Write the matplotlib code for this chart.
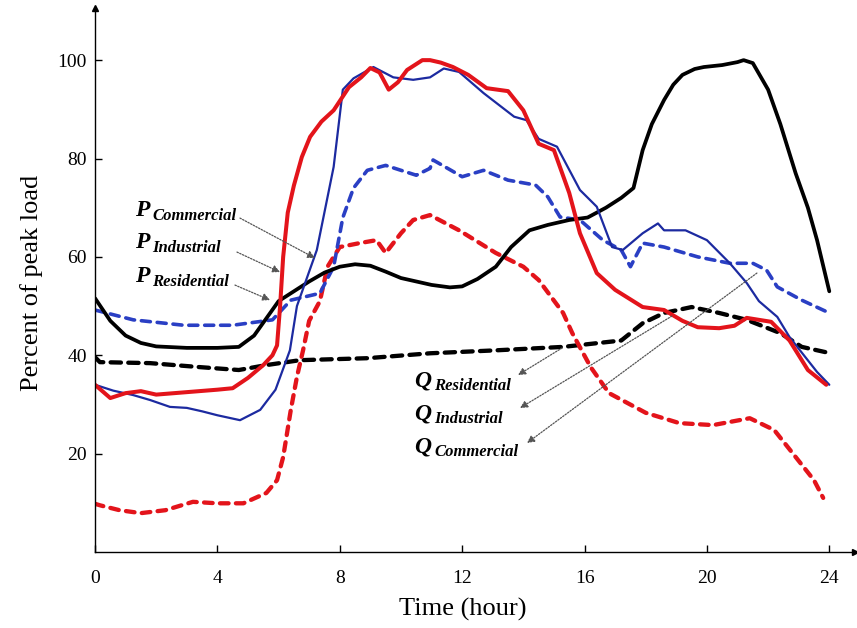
import matplotlib
matplotlib.use("Agg")
import matplotlib.pyplot as plt

# ---------------- data ----------------
# P_Residential (black solid)
res_p_h = [0, 0.5, 1, 1.5, 2, 3, 4, 4.7, 5.2, 5.6, 6, 6.5, 7, 7.5, 8, 8.5, 9, 9.5, 10,
           10.5, 11, 11.6, 12, 12.5, 13.1, 13.6, 14.2, 14.8, 15.5, 16.1, 16.7, 17.2, 17.6,
           17.9, 18.2, 18.6, 18.9, 19.2, 19.6, 19.9, 20.5, 21.0, 21.2, 21.5, 22, 22.4,
           22.9, 23.3, 23.6, 24]
res_p_v = [51.6, 47, 44, 42.5, 41.8, 41.5, 41.5, 41.7, 44, 47.5, 51, 53, 55, 56.8, 58,
           58.5, 58.2, 57, 55.7, 55, 54.3, 53.8, 54, 55.5, 58, 62, 65.4, 66.5, 67.5, 68,
           70, 72, 74, 81.7, 87, 91.9, 95, 97, 98.2, 98.6, 99, 99.6, 100, 99.4, 94, 87,
           77, 70, 63.4, 53]

# P_Industrial (red solid)
ind_p_h = [0, 0.5, 1, 1.5, 2, 3, 4, 4.5, 5, 5.5, 5.8, 5.95, 6.05, 6.15, 6.3, 6.5, 6.76,
           7.03, 7.4, 7.8, 8.3, 8.7, 9.0, 9.3, 9.6, 9.9, 10.2, 10.7, 10.95, 11.3, 11.7,
           12.2, 12.8, 13.5, 14.0, 14.5, 15.0, 15.5, 15.85, 16.4, 17.0, 17.9, 18.6, 19.2,
           19.7, 20.4, 20.9, 21.3, 22.1, 22.7, 23.3, 23.9]
ind_p_v = [34, 31.3, 32.3, 32.7, 32, 32.5, 33, 33.3, 35.4, 38, 40, 42, 50, 60, 69, 74.5,
           80.3, 84.4, 87.5, 89.8, 94.5, 96.5, 98.4, 97.5, 94, 95.5, 98, 100, 100, 99.5,
           98.6, 97, 94.3, 93.7, 89.8, 83, 81.7, 73, 64.8, 56.7, 53.3, 49.8, 49.2, 47,
           45.7, 45.5, 46, 47.6, 46.8, 43, 37, 34]

# P_Commercial (blue solid)
com_p_h = [0, 0.6, 1.25, 1.8, 2.45, 3, 3.5, 4, 4.74, 5.4, 5.9, 6.37, 6.6, 7.25, 7.8, 8.1,
           8.45, 9.1, 9.75, 10.4, 10.95, 11.4, 11.9, 12.7, 13.7, 14.1, 14.5, 15.1, 15.85,
           16.4, 16.9, 17.25, 17.9, 18.4, 18.6, 19.3, 20, 20.75, 21.3, 21.7, 22.3, 22.7,
           23.6, 24]
com_p_v = [34, 32.8, 31.9, 30.9, 29.5, 29.3, 28.6, 27.8, 26.8, 28.9, 33, 41, 50, 61.4,
           78.3, 94, 96.3, 98.6, 96.5, 96, 96.5, 98.3, 97.6, 93.3, 88.5, 87.8, 84, 82.4,
           73.6, 70.2, 62, 61.4, 64.8, 66.8, 65.4, 65.4, 63.4, 58.7, 54.7, 51, 47.8, 43.7,
           36.6, 34]

# Q_Commercial (blue dashed)
com_q_h = [0, 1.25, 2.9, 4.5, 5.8, 6.4, 7.35, 7.8, 8.1, 8.45, 8.9, 9.5, 10.5, 10.95,
           11.05, 12, 12.7, 13.5, 14.4, 14.8, 15.2, 15.85, 16.6, 17.2, 17.5, 17.9, 18.6,
           19.7, 20.75, 21.5, 21.95, 22.3, 23.1, 24]
com_q_v = [49.2, 47.2, 46.1, 46.1, 47.2, 51.2, 52.6, 58, 68, 74, 77.6, 78.6, 76.6, 78,
           79.7, 76.3, 77.6, 75.6, 74.6, 72.2, 68.1, 67.5, 63.4, 61.4, 58, 62.8, 62, 60,
           58.7, 58.7, 57.3, 53.9, 51.2, 48.6]

# Q_Industrial (red dashed)
ind_q_h = [0, 0.16, 0.8, 1.5, 2.3, 3.2, 4, 4.85, 5.6, 5.95, 6.15, 6.4, 6.6, 6.8, 7.0,
           7.35, 7.6, 8.0, 8.65, 9.2, 9.5, 10.0, 10.4, 10.95, 11.9, 13.1, 14.0, 14.5,
           15.3, 15.6, 16.2, 16.8, 18.0, 19.1, 20.2, 21.4, 22.2, 22.8, 23.5, 23.8]
ind_q_v = [9.8, 9.5, 8.5, 7.9, 8.5, 10.2, 9.9, 9.9, 12, 14.6, 19.3, 28.9, 35.6, 41, 47,
           51, 58, 62, 62.8, 63.4, 60.8, 64.8, 67.5, 68.5, 65.4, 60.8, 58, 55.3, 48.6,
           44.5, 37.6, 32.3, 28.3, 26.2, 25.8, 27.2, 24.8, 20.1, 14.6, 11]

# Q_Residential (black dashed)
res_q_h = [0, 0.16, 1.8, 3.4, 4.7, 5.6, 6.7, 8.9, 10.95, 13.1, 15.3, 17.2, 17.9, 18.6,
           19.5, 20.4, 21.3, 22.4, 23.1, 23.9]
res_q_v = [39.6, 38.6, 38.4, 37.6, 37, 38, 39, 39.4, 40.4, 41, 41.7, 43, 46.5, 48.6,
           49.8, 48.6, 47.2, 44.5, 41.7, 40.6]

x_ticks = [0, 4, 8, 12, 16, 20, 24]
y_ticks = [20, 40, 60, 80, 100]

p_labels = ["Commercial", "Industrial", "Residential"]
q_labels = ["Residential", "Industrial", "Commercial"]

# ---------------- figure ----------------
W, H = 857, 628
fig = plt.figure(figsize=(W / 100, H / 100), dpi=100)
plt.rcParams['font.family'] = ['Liberation Serif', 'DejaVu Serif']

ax = fig.add_axes([95 / W, 76 / H, (855 - 95) / W, (552 - 8) / H])
ax.set_xlim(0, 24.84)
ax.set_ylim(0, 110.6)

RED = '#e3141b'
BLUE = '#1c2aa0'
BLUE_D = '#2a3fc4'

common = dict(solid_joinstyle='round', solid_capstyle='round', dash_capstyle='round',
              dash_joinstyle='round')
ax.plot(res_q_h, res_q_v, color='black', lw=3.1, dashes=(2.4, 1.7), **common)
ax.plot(ind_q_h, ind_q_v, color=RED, lw=3.1, dashes=(2.0, 1.7), **common)
ax.plot(com_q_h, com_q_v, color=BLUE_D, lw=2.6, dashes=(2.5, 1.9), **common)
ax.plot(res_p_h, res_p_v, color='black', lw=2.7, **common)
ax.plot(com_p_h, com_p_v, color=BLUE, lw=1.6, **common)
ax.plot(ind_p_h, ind_p_v, color=RED, lw=2.9, **common)

# axes styling
for s in ['top', 'right']:
    ax.spines[s].set_visible(False)
for s in ['left', 'bottom']:
    ax.spines[s].set_linewidth(1.0)
ax.plot(1, 0, marker='>', color='black', markersize=5, transform=ax.transAxes, clip_on=False)
ax.plot(0, 1, marker='^', color='black', markersize=5, transform=ax.transAxes, clip_on=False)

ax.set_xticks(x_ticks)
ax.set_yticks(y_ticks)
ax.tick_params(direction='in', length=5, width=1.0, labelsize=14)
ax.tick_params(axis='y', pad=6)
ax.tick_params(axis='x', pad=13)
ax.set_xlabel('Time (hour)', fontsize=19)
ax.set_ylabel('Percent of peak load', fontsize=19)
# label anchors as in the reference (pixel positions converted to axes fractions)
ax.xaxis.set_label_coords((463 - 95) / (855 - 95), (552 - 598) / (552 - 8))
ax.yaxis.set_label_coords((43 - 95) / (855 - 95), (552 - 283) / (552 - 8))

# ---------------- annotations ----------------
def px2d(px, py):
    return ((px - 95) / 30.6, (552 - py) / 4.92)

arrow_kw = dict(arrowstyle='-|>', linestyle=(0, (1.2, 1.2)), color='#555555', lw=0.9,
                mutation_scale=11, shrinkA=0, shrinkB=0)

def label(big, sub, p_big, p_sub):
    x, y = px2d(*p_big)
    ax.text(x, y, big, fontsize=17, fontweight='bold', fontstyle='italic', va='baseline',
            ha='left')
    x, y = px2d(*p_sub)
    ax.text(x, y, sub, fontsize=12, fontweight='bold', fontstyle='italic', va='baseline',
            ha='left')

def arrow(tail, head):
    t = px2d(*tail)
    h = px2d(*head)
    ax.annotate('', xy=h, xytext=t, arrowprops=arrow_kw)

# P labels
p_base = [216, 248, 282]
for name, yb in zip(p_labels, p_base):
    label('P', name, (135, yb), (152, yb + 4))
arrow((240, 218), (315, 258))
arrow((237, 252), (280, 272))
arrow((235, 285), (270, 300))

# Q labels
q_base = [386, 419, 452]
for name, yb in zip(q_labels, q_base):
    label('Q', name, (414, yb), (434, yb + 4))
arrow((562, 348), (518, 375))
arrow((672, 316), (520, 408))
arrow((757, 273), (527, 443))

fig.savefig('out.png', dpi=100)
